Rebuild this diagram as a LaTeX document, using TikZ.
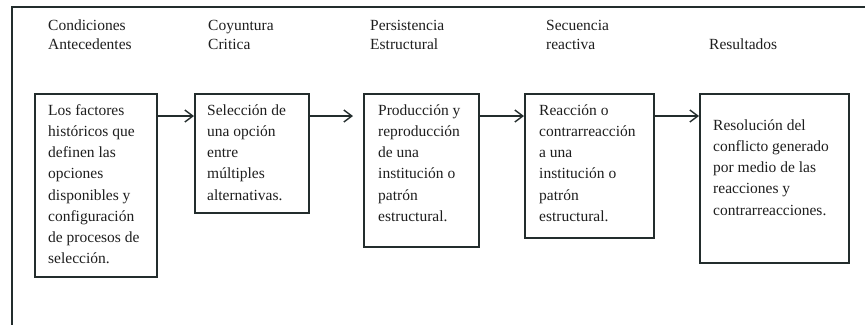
\documentclass[tikz,border=0pt]{standalone}
\usepackage{fontspec}
\setmainfont{Liberation Serif}
\usetikzlibrary{arrows.meta}
\definecolor{lin}{RGB}{35,45,45}
\definecolor{txt}{RGB}{30,30,30}
\tikzset{
  stepbox/.style={draw=lin, line width=2.1pt, rectangle, inner sep=0pt, anchor=north west},
  boxtext/.style={inner sep=0pt, anchor=north west, align=left, text=txt, font=\fontsize{15.5}{21.2}\selectfont},
  title/.style={inner sep=0pt, anchor=north west, align=left, text=txt, font=\fontsize{15.5}{19}\selectfont},
  arr/.style={draw=lin, line width=1.4pt, -{Straight Barb[length=8pt,width=12pt,line width=1.4pt]}}
}
\begin{document}
\begin{tikzpicture}[x=1pt,y=-1pt]
\useasboundingbox (0,0) rectangle (865,325);
\draw[lin, line width=2.1pt] (865,7) -- (12,7) -- (12,325);
% titles
\node[title] (t1) at (48,17.4) {\strut Condiciones\\Antecedentes};
\node[title] (t2) at (208,17.4) {\strut Coyuntura\\Critica};
\node[title] (t3) at (370,17.4) {\strut Persistencia\\Estructural};
\node[title] (t4) at (546,17.4) {\strut Secuencia\\reactiva};
\node[title] (t5) at (709,36.4) {\strut Resultados};
% boxes
\node[stepbox, minimum width=122pt, minimum height=183pt] (b1) at (34,93) {};
\node[stepbox, minimum width=114pt, minimum height=119pt] (b2) at (194,93) {};
\node[stepbox, minimum width=115pt, minimum height=153pt] (b3) at (363,93) {};
\node[stepbox, minimum width=129pt, minimum height=144pt] (b4) at (524,93) {};
\node[stepbox, minimum width=149pt, minimum height=169pt] (b5) at (699,93) {};
% box texts
\node[boxtext] (x1) at (48,100.2) {\strut Los factores\\históricos que\\definen las\\opciones\\disponibles y\\configuración\\de procesos de\\selección.};
\node[boxtext] (x2) at (207,100.2) {\strut Selección de\\una opción\\entre\\múltiples\\alternativas.};
\node[boxtext] (x3) at (378,100.2) {\strut Producción y\\reproducción\\de una\\institución o\\patrón\\estructural.};
\node[boxtext] (x4) at (539,100.2) {\strut Reacción o\\contrarreacción\\a una\\institución o\\patrón\\estructural.};
\node[boxtext] (x5) at (713,115.2) {\strut Resolución del\\conflicto generado\\por medio de las\\reacciones y\\contrarreacciones.};
% arrows
\draw[arr] ([yshift=-23pt]b1.north east) -- ([yshift=-23pt]b2.north west);
\draw[arr, shorten >=10pt] ([yshift=-23pt]b2.north east) -- ([yshift=-23pt]b3.north west);
\draw[arr] ([yshift=-23pt]b3.north east) -- ([yshift=-23pt]b4.north west);
\draw[arr] ([yshift=-23pt]b4.north east) -- ([yshift=-23pt]b5.north west);
\end{tikzpicture}
\end{document}
